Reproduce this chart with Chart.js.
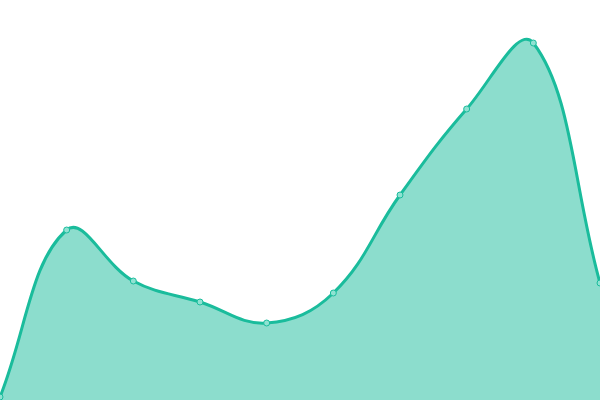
<!DOCTYPE html>
<html>
<head>
<meta charset="utf-8">
<script src="https://cdn.jsdelivr.net/npm/chart.js@4"></script>
<style>
html,body{margin:0;padding:0;background:#fff;}
#wrap{width:600px;height:400px;}
</style>
</head>
<body>
<div id="wrap"><canvas id="c"></canvas></div>
<script>
const labels = ["1","2","3","4","5","6","7","8","9","10"];
const values = [0.75, 42.5, 29.75, 24.5, 19.25, 26.75, 51.25, 72.75, 89.25, 29.25];
const yMin = 0;
const yMax = 100;

new Chart(document.getElementById('c'), {
  type: 'line',
  data: {
    labels: labels,
    datasets: [{
      data: values,
      borderColor: 'rgb(26,188,156)',
      backgroundColor: 'rgba(26,188,156,0.5)',
      pointBackgroundColor: 'rgb(143,226,210)',
      pointBorderColor: 'rgb(26,188,156)',
      pointBorderWidth: 1,
      pointRadius: 3,
      borderWidth: 3,
      tension: 0.4,
      fill: 'start',
      clip: false
    }]
  },
  options: {
    responsive: true,
    maintainAspectRatio: false,
    animation: false,
    layout: { padding: 0, autoPadding: false },
    plugins: { legend: { display: false }, tooltip: { enabled: false } },
    scales: {
      x: { display: false, offset: false },
      y: { display: false, min: yMin, max: yMax }
    }
  }
});
</script>
</body>
</html>
